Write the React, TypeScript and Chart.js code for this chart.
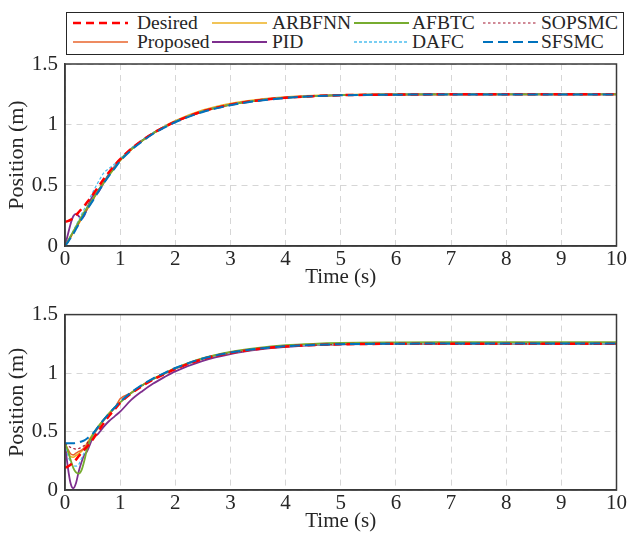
import React, { useEffect, useRef } from 'react';
import { Chart, registerables } from 'chart.js';

Chart.register(...registerables);

// ---------- data ----------
const TIME = [0, 0.05, 0.1, 0.15, 0.2, 0.25, 0.3, 0.35, 0.4, 0.5, 0.6, 0.7, 0.8, 0.9, 1.0, 1.2, 1.4, 1.6, 1.8, 2.0, 2.5, 3.0, 3.5, 4.0, 4.5, 5.0, 6.0, 7.0, 8.0, 9.0, 10.0];

const SERIES_NAMES = ['Desired', 'Proposed', 'ARBFNN', 'PID', 'AFBTC', 'DAFC', 'SOPSMC', 'SFSMC'];

const X_TICKS = [0, 1, 2, 3, 4, 5, 6, 7, 8, 9, 10];
const Y_TICKS = [0, 0.5, 1, 1.5];
const Y_TICK_LABELS = ['0', '0.5', '1', '1.5'];

// top panel
const TOP_DESIRED = [0.20, 0.205, 0.215, 0.235, 0.255, 0.28, 0.305, 0.33, 0.36, 0.42, 0.485, 0.55, 0.61, 0.665, 0.715, 0.80, 0.87, 0.93, 0.98, 1.025, 1.11, 1.165, 1.20, 1.222, 1.235, 1.243, 1.248, 1.25, 1.25, 1.25, 1.25];
const TOP_PROPOSED = [0, 0.035, 0.075, 0.115, 0.155, 0.19, 0.23, 0.27, 0.305, 0.38, 0.455, 0.525, 0.59, 0.65, 0.71, 0.80, 0.87, 0.93, 0.98, 1.025, 1.11, 1.165, 1.20, 1.222, 1.235, 1.243, 1.248, 1.25, 1.25, 1.25, 1.25];
const TOP_ARBFNN = [0, 0.03, 0.07, 0.11, 0.15, 0.185, 0.225, 0.265, 0.30, 0.375, 0.45, 0.52, 0.585, 0.645, 0.705, 0.795, 0.868, 0.932, 0.985, 1.032, 1.12, 1.175, 1.208, 1.228, 1.24, 1.246, 1.25, 1.252, 1.252, 1.252, 1.252];
const TOP_PID = [0, 0.09, 0.18, 0.245, 0.265, 0.245, 0.225, 0.25, 0.31, 0.41, 0.44, 0.52, 0.595, 0.655, 0.71, 0.80, 0.87, 0.93, 0.98, 1.025, 1.11, 1.165, 1.20, 1.222, 1.235, 1.243, 1.248, 1.25, 1.25, 1.25, 1.25];
const TOP_AFBTC = [0, 0.04, 0.08, 0.12, 0.16, 0.2, 0.24, 0.28, 0.315, 0.385, 0.455, 0.52, 0.585, 0.645, 0.705, 0.795, 0.868, 0.93, 0.98, 1.025, 1.11, 1.166, 1.201, 1.223, 1.236, 1.244, 1.249, 1.25, 1.25, 1.25, 1.25];
const TOP_DAFC = [0, 0.04, 0.08, 0.125, 0.17, 0.215, 0.26, 0.305, 0.35, 0.44, 0.525, 0.6, 0.64, 0.675, 0.72, 0.805, 0.875, 0.935, 0.985, 1.028, 1.112, 1.166, 1.201, 1.223, 1.236, 1.244, 1.249, 1.25, 1.25, 1.25, 1.25];
const TOP_SOPSMC = [0, 0.035, 0.07, 0.11, 0.15, 0.19, 0.23, 0.27, 0.31, 0.38, 0.455, 0.525, 0.59, 0.65, 0.71, 0.80, 0.87, 0.93, 0.98, 1.025, 1.11, 1.165, 1.20, 1.222, 1.235, 1.243, 1.248, 1.25, 1.25, 1.25, 1.25];
const TOP_SFSMC = [0, 0.03, 0.065, 0.10, 0.14, 0.18, 0.22, 0.26, 0.30, 0.37, 0.445, 0.515, 0.58, 0.64, 0.70, 0.79, 0.862, 0.925, 0.975, 1.02, 1.105, 1.16, 1.196, 1.22, 1.234, 1.242, 1.247, 1.249, 1.249, 1.249, 1.249];

// bottom panel
const BOT_DESIRED = [0.19, 0.2, 0.215, 0.235, 0.26, 0.29, 0.32, 0.345, 0.37, 0.43, 0.5, 0.57, 0.635, 0.69, 0.745, 0.825, 0.89, 0.945, 0.99, 1.035, 1.12, 1.172, 1.206, 1.228, 1.24, 1.246, 1.25, 1.25, 1.25, 1.25, 1.25];
const BOT_PROPOSED = [0.40, 0.35, 0.31, 0.30, 0.315, 0.33, 0.34, 0.36, 0.39, 0.46, 0.53, 0.595, 0.65, 0.70, 0.78, 0.83, 0.895, 0.948, 0.993, 1.037, 1.12, 1.172, 1.206, 1.228, 1.24, 1.246, 1.25, 1.25, 1.25, 1.25, 1.25];
const BOT_ARBFNN = [0.40, 0.33, 0.285, 0.28, 0.295, 0.31, 0.33, 0.36, 0.40, 0.475, 0.54, 0.6, 0.655, 0.705, 0.75, 0.83, 0.895, 0.95, 0.996, 1.04, 1.125, 1.178, 1.21, 1.232, 1.243, 1.249, 1.253, 1.254, 1.254, 1.254, 1.254];
const BOT_PID = [0.40, 0.2, 0.06, 0.015, 0.06, 0.16, 0.24, 0.30, 0.33, 0.44, 0.48, 0.54, 0.59, 0.63, 0.67, 0.77, 0.845, 0.91, 0.965, 1.015, 1.105, 1.163, 1.2, 1.224, 1.238, 1.245, 1.25, 1.25, 1.25, 1.25, 1.25];
const BOT_AFBTC = [0.40, 0.34, 0.26, 0.19, 0.15, 0.14, 0.17, 0.25, 0.35, 0.47, 0.54, 0.6, 0.655, 0.705, 0.75, 0.83, 0.895, 0.95, 0.997, 1.042, 1.128, 1.182, 1.216, 1.238, 1.25, 1.257, 1.262, 1.264, 1.265, 1.265, 1.265];
const BOT_DAFC = [0.40, 0.30, 0.24, 0.21, 0.205, 0.22, 0.27, 0.32, 0.37, 0.46, 0.535, 0.6, 0.655, 0.705, 0.75, 0.83, 0.895, 0.95, 0.995, 1.038, 1.122, 1.174, 1.207, 1.229, 1.241, 1.247, 1.25, 1.25, 1.25, 1.25, 1.25];
const BOT_SOPSMC = [0.40, 0.38, 0.365, 0.355, 0.35, 0.355, 0.365, 0.38, 0.40, 0.465, 0.535, 0.6, 0.655, 0.705, 0.75, 0.83, 0.893, 0.948, 0.993, 1.037, 1.12, 1.172, 1.206, 1.228, 1.24, 1.246, 1.25, 1.25, 1.25, 1.25, 1.25];
const BOT_SFSMC = [0.40, 0.40, 0.40, 0.40, 0.405, 0.41, 0.415, 0.425, 0.44, 0.48, 0.54, 0.6, 0.655, 0.705, 0.755, 0.835, 0.9, 0.955, 1.0, 1.043, 1.125, 1.175, 1.208, 1.229, 1.241, 1.247, 1.251, 1.253, 1.253, 1.253, 1.253];

const TOP_SERIES = [TOP_DESIRED, TOP_PROPOSED, TOP_ARBFNN, TOP_PID, TOP_AFBTC, TOP_DAFC, TOP_SOPSMC, TOP_SFSMC];
const BOT_SERIES = [BOT_DESIRED, BOT_PROPOSED, BOT_ARBFNN, BOT_PID, BOT_AFBTC, BOT_DAFC, BOT_SOPSMC, BOT_SFSMC];

// ---------- styles ----------
type Sty = { color: string; width: number; dash: number[]; order: number };
const STYLES: Sty[] = [
  { color: '#FF0000', width: 2.5, dash: [8, 5], order: 1 },
  { color: '#E8652C', width: 1.6, dash: [], order: 5 },
  { color: '#EDB120', width: 1.6, dash: [], order: 7 },
  { color: '#7E2F8E', width: 1.8, dash: [], order: 6 },
  { color: '#77AC30', width: 1.8, dash: [], order: 2 },
  { color: '#4DBEEE', width: 1.3, dash: [3, 2], order: 3 },
  { color: '#A2142F', width: 1.2, dash: [2.5, 2.5], order: 4 },
  { color: '#0072BD', width: 2, dash: [10, 5], order: 0 },
];

const FONT = "'Liberation Serif', 'Times New Roman', serif";
const INK = '#262626';

const boxPlugin = {
  id: 'box',
  afterDraw(chart: any) {
    const { ctx, chartArea } = chart;
    const { left, top, right, bottom } = chartArea;
    ctx.save();
    ctx.strokeStyle = '#3a3a3a';
    ctx.lineWidth = 1.5;
    ctx.setLineDash([]);
    ctx.strokeRect(left, top, right - left, bottom - top);
    ctx.restore();
  },
};

function buildConfig(series: number[][], padTop: number): any {
  return {
    type: 'line',
    data: {
      datasets: series.map((ys, i) => ({
        label: SERIES_NAMES[i],
        data: TIME.map((t, k) => ({ x: t, y: ys[k] })),
        borderColor: STYLES[i].color,
        borderWidth: STYLES[i].width,
        borderDash: STYLES[i].dash,
        order: STYLES[i].order,
        pointRadius: 0,
        fill: false,
        cubicInterpolationMode: 'monotone',
      })),
    },
    options: {
      animation: false,
      responsive: false,
      devicePixelRatio: 1,
      layout: { padding: { top: padTop, right: 10, bottom: 0, left: 0 } },
      plugins: { legend: { display: false }, tooltip: { enabled: false } },
      scales: {
        x: {
          type: 'linear',
          min: 0,
          max: 10,
          afterFit: (s: any) => { s.height = 49; },
          afterBuildTicks: (s: any) => { s.ticks = X_TICKS.map((v) => ({ value: v })); },
          ticks: { padding: 1, color: INK, font: { family: FONT, size: 21 }, maxRotation: 0, callback: (v: any) => String(v) },
          grid: { color: '#d6d6d6', lineWidth: 1, drawTicks: false },
          border: { display: true, color: '#3a3a3a', width: 1.5, dash: [6, 5] },
          title: { display: true, text: 'Time (s)', color: INK, font: { family: FONT, size: 21 }, padding: { top: 0, bottom: 5 } },
        },
        y: {
          type: 'linear',
          min: 0,
          max: 1.5,
          afterFit: (s: any) => { s.width = 65; },
          afterBuildTicks: (s: any) => { s.ticks = Y_TICKS.map((v) => ({ value: v })); },
          ticks: {
            padding: 7,
            color: INK,
            font: { family: FONT, size: 21 },
            callback: (v: any) => {
              const idx = Y_TICKS.indexOf(Number(v));
              return idx >= 0 ? Y_TICK_LABELS[idx] : String(v);
            },
          },
          grid: { color: '#d6d6d6', lineWidth: 1, drawTicks: false },
          border: { display: true, color: '#3a3a3a', width: 1.5, dash: [6, 5] },
          title: { display: true, text: 'Position (m)', color: INK, font: { family: FONT, size: 22 }, padding: { top: 4, bottom: 0 } },
        },
      },
    },
    plugins: [boxPlugin],
  };
}

function Panel({ series, top, height, padTop }: { series: number[][]; top: number; height: number; padTop: number }) {
  const ref = useRef<HTMLCanvasElement>(null);
  useEffect(() => {
    if (!ref.current) return;
    const chart = new Chart(ref.current, buildConfig(series, padTop));
    return () => chart.destroy();
  }, []);
  return (
    <canvas
      ref={ref}
      width={628}
      height={height}
      style={{ position: 'absolute', left: 0, top, width: 628, height }}
    />
  );
}

const LEGEND_SAMPLE_X = [73, 212, 354, 483];
const LEGEND_TEXT_X = [137, 272, 412, 541];
const LEGEND_ROW_Y = [23, 42];

function Legend() {
  const items = SERIES_NAMES.map((name, i) => {
    const col = Math.floor(i / 2);
    const row = i % 2;
    const st = STYLES[i];
    const cy = LEGEND_ROW_Y[row];
    return (
      <React.Fragment key={name}>
        <svg
          width={56}
          height={8}
          style={{ position: 'absolute', left: LEGEND_SAMPLE_X[col], top: cy - 4 }}
        >
          <line
            x1={0}
            y1={4}
            x2={55}
            y2={4}
            stroke={st.color}
            strokeWidth={st.width}
            strokeDasharray={st.dash.length ? st.dash.join(' ') : undefined}
          />
        </svg>
        <div
          style={{
            position: 'absolute',
            left: LEGEND_TEXT_X[col],
            top: cy - 11,
            height: 22,
            lineHeight: '22px',
            fontFamily: FONT,
            fontSize: 19.5,
            color: INK,
            whiteSpace: 'nowrap',
          }}
        >
          {name}
        </div>
      </React.Fragment>
    );
  });
  return (
    <>
      <div
        style={{
          position: 'absolute',
          left: 66,
          top: 12,
          width: 558,
          height: 43,
          boxSizing: 'border-box',
          border: '1.5px solid #262626',
          background: '#fff',
        }}
      />
      {items}
    </>
  );
}

export default function App() {
  return (
    <div style={{ position: 'absolute', left: 0, top: 0, width: 628, height: 539, background: '#fff', overflow: 'hidden' }}>
      <Panel series={TOP_SERIES} top={0} height={295} padTop={64} />
      <Panel series={BOT_SERIES} top={295} height={244} padTop={14} />
      <Legend />
    </div>
  );
}
